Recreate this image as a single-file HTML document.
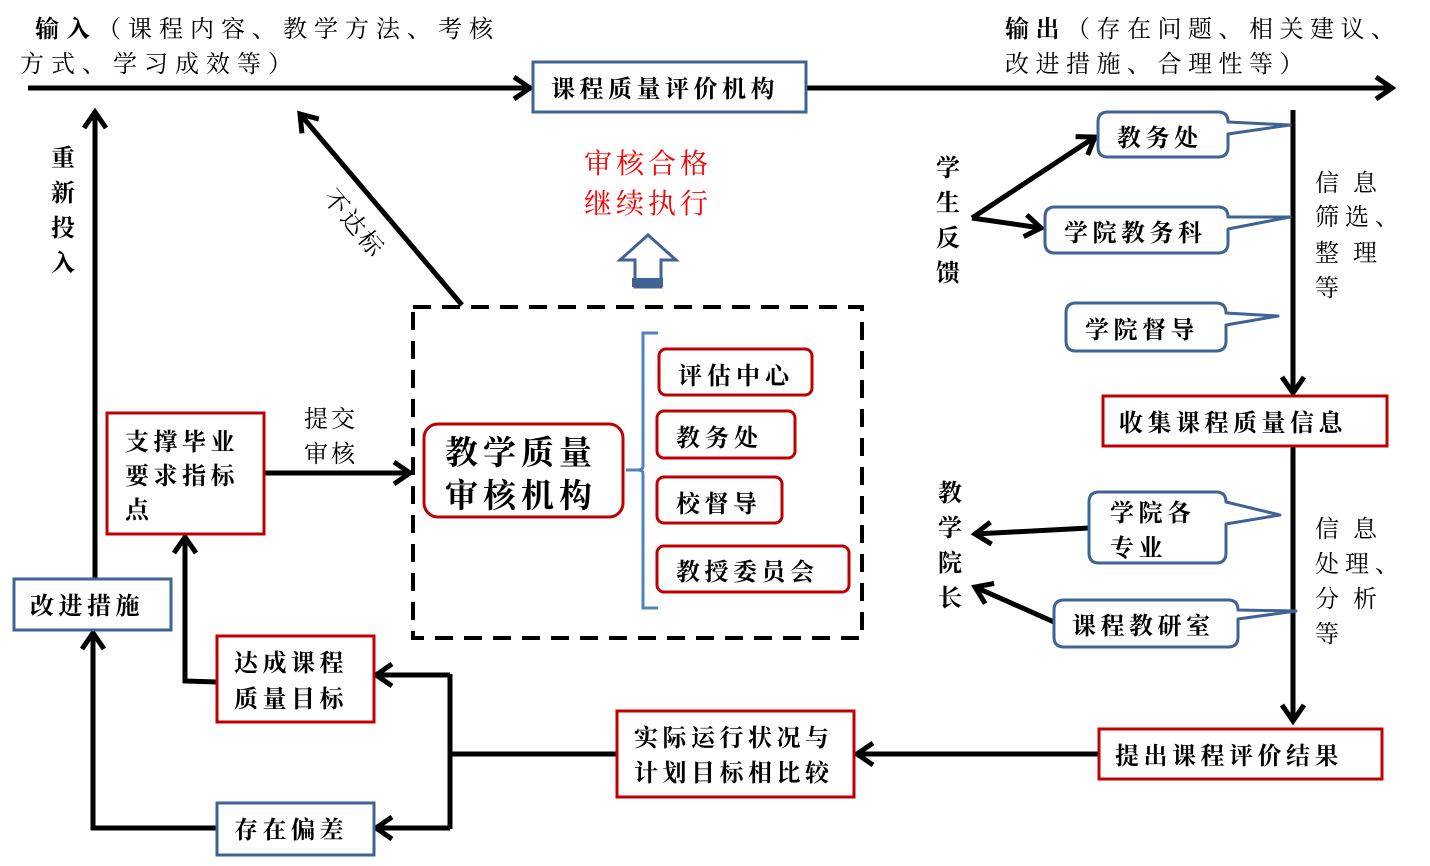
<!DOCTYPE html>
<html><head><meta charset="utf-8"><style>
html,body{margin:0;padding:0;background:#fff}
svg{display:block}
text{font-family:"Liberation Serif","Noto Serif CJK SC",serif;fill:#000}
</style></head><body>
<svg width="1430" height="866" viewBox="0 0 1430 866" xmlns="http://www.w3.org/2000/svg">
<defs>
<marker id="a" viewBox="0 0 24 24" refX="21" refY="12" markerWidth="24" markerHeight="24" markerUnits="userSpaceOnUse" orient="auto" overflow="visible">
<polyline points="5,1 21,12 5,23" fill="none" stroke="#000" stroke-width="5" stroke-linejoin="miter"/>
</marker>
</defs>
<g stroke="#000" stroke-width="5" fill="none" stroke-linejoin="miter">
<line x1="28" y1="88" x2="530" y2="88" marker-end="url(#a)"/>
<line x1="806" y1="88" x2="1392" y2="88" marker-end="url(#a)"/>
<line x1="95" y1="578" x2="95" y2="112" marker-end="url(#a)"/>
<line x1="264" y1="473" x2="410" y2="473" marker-end="url(#a)"/>
<line x1="462" y1="305" x2="300" y2="114" marker-end="url(#a)"/>
<line x1="972" y1="218" x2="1095" y2="137" marker-end="url(#a)"/>
<line x1="972" y1="218" x2="1041" y2="228" marker-end="url(#a)"/>
<line x1="1293" y1="110" x2="1293" y2="393" marker-end="url(#a)"/>
<line x1="1293" y1="446" x2="1293" y2="721" marker-end="url(#a)"/>
<line x1="1089" y1="528" x2="975" y2="534" marker-end="url(#a)"/>
<line x1="1054" y1="622" x2="975" y2="587" marker-end="url(#a)"/>
<line x1="1099" y1="754" x2="857" y2="754" marker-end="url(#a)"/>
<line x1="617" y1="754" x2="450" y2="754"/>
<polyline points="450,674 450,829"/>
<line x1="450" y1="675" x2="376" y2="675" marker-end="url(#a)"/>
<line x1="450" y1="828" x2="376" y2="828" marker-end="url(#a)"/>
<polyline points="217,682 185,681 185,537" marker-end="url(#a)"/>
<polyline points="217,828 93,828 93,633" marker-end="url(#a)"/>
</g>
<rect x="413" y="307" width="449" height="331" fill="none" stroke="#000" stroke-width="4" stroke-dasharray="18,11"/>
<path d="M658,333 H643 V466 Q643,470 638,470 H626 M638,470 Q643,470 643,474 V608 H658" fill="none" stroke="#4f81bd" stroke-width="3"/>
<g fill="#fff" stroke-width="3">
<rect x="533" y="62" width="273" height="50" stroke="#3e6394"/>
<rect x="14" y="579" width="157" height="51" stroke="#3e6394"/>
<rect x="107" y="413" width="157" height="121" stroke="#c00000"/>
<rect x="217" y="636" width="157" height="86" stroke="#c00000"/>
<rect x="217" y="803" width="157" height="52" stroke="#3e6394"/>
<rect x="617" y="711" width="237" height="86" stroke="#c00000"/>
<rect x="1103" y="396" width="284" height="50" stroke="#c00000"/>
<rect x="1099" y="729" width="283" height="50" stroke="#c00000"/>
<rect x="424" y="424" width="199" height="93" rx="14" stroke="#c00000"/>
<rect x="659" y="349" width="153" height="46" rx="7" stroke="#c00000"/>
<rect x="657" y="411" width="138" height="47" rx="7" stroke="#c00000"/>
<rect x="657" y="477" width="125" height="46" rx="7" stroke="#c00000"/>
<rect x="657" y="546" width="192" height="46" rx="7" stroke="#c00000"/>
</g>
<g fill="#fff" stroke="#3e6394" stroke-width="3" stroke-linejoin="round">
<path d="M1108,112 H1218 Q1228,112 1228,122 L1290,125 L1228,134 V147 Q1228,157 1218,157 H1108 Q1098,157 1098,147 V122 Q1098,112 1108,112 Z"/>
<path d="M1055,207 H1218 Q1228,207 1228,217 L1290,217 L1228,229 V243 Q1228,253 1218,253 H1055 Q1045,253 1045,243 V217 Q1045,207 1055,207 Z"/>
<path d="M1076,303 H1216 Q1226,303 1226,313 L1278,316 L1226,325 V341 Q1226,351 1216,351 H1076 Q1066,351 1066,341 V313 Q1066,303 1076,303 Z"/>
<path d="M1099,492 H1216 Q1226,492 1226,502 L1280,515 L1226,524 V553 Q1226,563 1216,563 H1099 Q1089,563 1089,553 V502 Q1089,492 1099,492 Z"/>
<path d="M1064,600 H1228 Q1238,600 1238,610 L1296,611 L1238,619 V637 Q1238,647 1228,647 H1064 Q1054,647 1054,637 V610 Q1054,600 1064,600 Z"/>
</g>
<path d="M648,235 L676,260 H661 V287 H635 V260 H620 Z" fill="#fff" stroke="#3e6394" stroke-width="3"/>
<rect x="632" y="278" width="31" height="9" fill="#3e6394"/>
<g font-size="24">
<text x="35" y="37" letter-spacing="7"><tspan font-weight="bold">输入</tspan>（课程内容、教学方法、考核</text>
<text x="20" y="72" letter-spacing="7">方式、学习成效等）</text>
<text x="1005" y="37" letter-spacing="6.5"><tspan font-weight="bold">输出</tspan>（存在问题、相关建议、</text>
<text x="1005" y="72" letter-spacing="6.5">改进措施、合理性等）</text>
<g font-weight="bold" letter-spacing="4.5">
<text x="551" y="97">课程质量评价机构</text>
<text x="30" y="614">改进措施</text>
<text x="125" y="450">支撑毕业</text>
<text x="125" y="484">要求指标</text>
<text x="125" y="518">点</text>
<text x="234" y="671">达成课程</text>
<text x="234" y="707">质量目标</text>
<text x="234" y="838">存在偏差</text>
<text x="634" y="746">实际运行状况与</text>
<text x="634" y="781">计划目标相比较</text>
<text x="1119" y="431">收集课程质量信息</text>
<text x="1115" y="764">提出课程评价结果</text>
<text x="678" y="384" letter-spacing="5">评估中心</text>
<text x="676" y="446" letter-spacing="5">教务处</text>
<text x="676" y="512">校督导</text>
<text x="676" y="580">教授委员会</text>
<text x="1117" y="146">教务处</text>
<text x="1064" y="241">学院教务科</text>
<text x="1085" y="338">学院督导</text>
<text x="1110" y="521">学院各</text>
<text x="1110" y="556">专业</text>
<text x="1072" y="634">课程教研室</text>
<text x="936" y="176">学</text>
<text x="936" y="211">生</text>
<text x="936" y="246">反</text>
<text x="936" y="281">馈</text>
<text x="938" y="501">教</text>
<text x="938" y="536">学</text>
<text x="938" y="571">院</text>
<text x="938" y="606">长</text>
<text x="51" y="166">重</text>
<text x="51" y="201">新</text>
<text x="51" y="236">投</text>
<text x="51" y="271">入</text>
</g>
<text x="304" y="427" letter-spacing="3">提交</text>
<text x="304" y="462" letter-spacing="3">审核</text>
<text x="1315" y="191">信</text><text x="1353" y="191">息</text>
<text x="1315" y="225" letter-spacing="6">筛选、</text>
<text x="1315" y="261">整</text><text x="1353" y="261">理</text>
<text x="1315" y="296">等</text>
<text x="1315" y="537">信</text><text x="1353" y="537">息</text>
<text x="1315" y="572" letter-spacing="6">处理、</text>
<text x="1315" y="607">分</text><text x="1353" y="607">析</text>
<text x="1315" y="642">等</text>
<text x="0" y="0" transform="translate(322,198) rotate(50)" letter-spacing="3">不达标</text>
</g>
<text x="648" y="173" font-size="28" style="fill:#ff0000" text-anchor="middle" letter-spacing="4">审核合格</text>
<text x="648" y="213" font-size="28" style="fill:#ff0000" text-anchor="middle" letter-spacing="4">继续执行</text>
<text x="445" y="464" font-size="33" font-weight="bold" letter-spacing="5">教学质量</text>
<text x="445" y="507" font-size="33" font-weight="bold" letter-spacing="5">审核机构</text>
</svg>
</body></html>
